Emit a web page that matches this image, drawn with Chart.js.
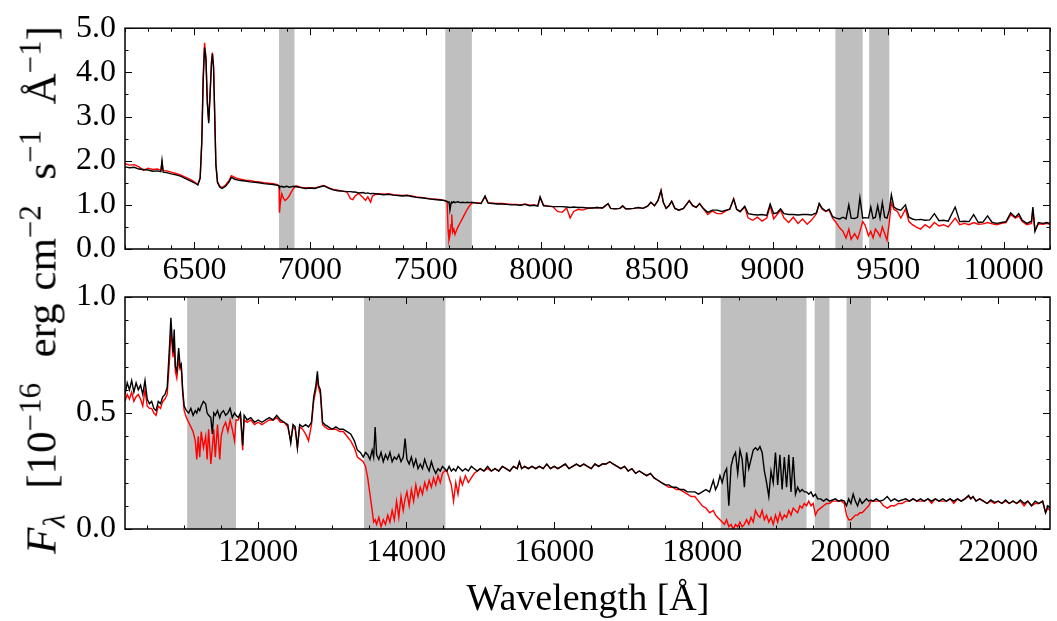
<!DOCTYPE html>
<html>
<head>
<meta charset="utf-8">
<script src="https://cdn.jsdelivr.net/npm/chart.js@4.4.1/dist/chart.umd.min.js"></script>
<style>
  body { margin: 0; background: #fff; }
  #wrap { position: relative; width: 1057px; height: 621px; font-family: 'Liberation Serif', 'Times New Roman', serif; color: #000; }
  canvas { position: absolute; left: 0; top: 0; }
  .ylab { position: absolute; left: 41px; top: 290px; transform: translate(-50%, -50%) rotate(-90deg); font-size: 43px; white-space: nowrap; word-spacing: 2px; }
  .xlab { position: absolute; left: 588px; top: 597px; transform: translate(-50%, -50%); font-size: 38px; white-space: nowrap; }
  sup { font-size: 0.72em; vertical-align: 0.5em; line-height: 0; }
  sub { font-size: 0.72em; vertical-align: -0.3em; line-height: 0; }
</style>
</head>
<body>
<div id="wrap">
  <canvas id="topPanel" width="1057" height="621"></canvas>
  <canvas id="bottomPanel" width="1057" height="621"></canvas>
  <div class="ylab"><i>F</i><sub><i>λ</i></sub>&nbsp;&nbsp;[10<sup>−16</sup>&nbsp;&nbsp;erg&nbsp;cm<sup>−2</sup>&nbsp;&nbsp;s<sup>−1</sup>&nbsp;&nbsp;Å<sup>−1</sup>]</div>
  <div class="xlab">Wavelength [Å]</div>
</div>
<script>
// ---- top panel (optical) ----
const topWave = [
  6200, 6220, 6240, 6260, 6280, 6300, 6320, 6340, 6355, 6360,
  6365, 6380, 6400, 6420, 6440, 6460, 6480, 6500, 6515, 6525,
  6532, 6538, 6544, 6550, 6556, 6562, 6568, 6574, 6578, 6583,
  6588, 6593, 6600, 6610, 6620, 6635, 6650, 6660, 6675, 6690,
  6700, 6720, 6740, 6760, 6780, 6800, 6820, 6840, 6860, 6866,
  6868, 6872, 6878, 6885, 6892, 6900, 6910, 6920, 6930, 6940,
  6960, 6980, 7000, 7020, 7040, 7060, 7080, 7100, 7120, 7140,
  7160, 7175, 7185, 7195, 7210, 7230, 7240, 7250, 7262, 7270,
  7285, 7300, 7320, 7340, 7360, 7380, 7400, 7420, 7440, 7460,
  7480, 7500, 7520, 7540, 7560, 7580, 7593, 7597, 7601, 7605,
  7610, 7613, 7617, 7622, 7627, 7633, 7640, 7650, 7660, 7670,
  7680, 7690, 7700, 7720, 7740, 7757, 7770, 7790, 7810, 7830,
  7850, 7870, 7890, 7910, 7930, 7950, 7970, 7985, 7995, 8010,
  8030, 8050, 8070, 8090, 8110, 8125, 8140, 8160, 8180, 8200,
  8220, 8240, 8265, 8289, 8300, 8320, 8340, 8352, 8365, 8380,
  8400, 8420, 8440, 8460, 8474, 8490, 8505, 8518, 8528, 8540,
  8552, 8564, 8578, 8595, 8615, 8640, 8655, 8670, 8685, 8700,
  8720, 8740, 8760, 8780, 8800, 8815, 8832, 8845, 8860, 8880,
  8895, 8915, 8935, 8955, 8975, 8990, 9005, 9020, 9035, 9050,
  9070, 9090, 9110, 9130, 9150, 9170, 9190, 9202, 9215, 9230,
  9245, 9260, 9275, 9290, 9305, 9318, 9330, 9340, 9355, 9368,
  9378, 9390, 9400, 9415, 9425, 9435, 9445, 9455, 9465, 9475,
  9485, 9495, 9505, 9514, 9525, 9540, 9555, 9575, 9590, 9605,
  9620, 9640, 9660, 9680, 9700, 9720, 9740, 9760, 9790, 9810,
  9830, 9850, 9870, 9890, 9910, 9930, 9950, 9970, 9990, 10010,
  10030, 10050, 10065, 10080, 10100, 10120, 10126, 10135, 10150, 10170,
  10185, 10200
];
const topBlack = [
  1.86, 1.84, 1.85, 1.81, 1.80, 1.79, 1.76, 1.77, 1.75, 2.00,
  1.74, 1.73, 1.70, 1.68, 1.65, 1.60, 1.55, 1.50, 1.45, 1.60,
  2.40, 3.80, 4.56, 4.30, 3.30, 2.85, 3.50, 4.20, 4.42, 4.10,
  3.00, 1.90, 1.50, 1.40, 1.37, 1.42, 1.52, 1.62, 1.58, 1.56,
  1.55, 1.54, 1.52, 1.51, 1.50, 1.48, 1.47, 1.46, 1.44, 1.43,
  1.40, 1.41, 1.42, 1.40, 1.41, 1.42, 1.40, 1.41, 1.42, 1.41,
  1.39, 1.37, 1.38, 1.37, 1.40, 1.43, 1.38, 1.34, 1.32, 1.31,
  1.30, 1.30, 1.29, 1.29, 1.27, 1.28, 1.26, 1.27, 1.25, 1.26,
  1.25, 1.24, 1.23, 1.24, 1.22, 1.21, 1.20, 1.21, 1.19, 1.17,
  1.16, 1.15, 1.13, 1.12, 1.11, 1.10, 1.08, 1.06, 1.08, 0.88,
  1.04, 1.06, 1.05, 1.07, 1.05, 1.06, 1.07, 1.05, 1.06, 1.05,
  1.06, 1.05, 1.06, 1.04, 1.03, 1.20, 1.04, 1.03, 1.02, 1.02,
  1.01, 1.00, 1.00, 0.99, 1.01, 0.98, 0.99, 0.97, 1.18, 0.98,
  0.97, 0.96, 0.96, 0.96, 0.95, 0.94, 0.95, 0.94, 0.94, 0.93,
  0.93, 0.94, 0.93, 1.03, 0.92, 0.91, 0.92, 0.98, 0.91, 0.91,
  0.92, 0.94, 0.92, 0.97, 1.06, 0.98, 1.10, 1.32, 1.05, 0.92,
  0.98, 1.08, 0.92, 0.88, 0.92, 1.09, 0.98, 0.94, 1.03, 0.92,
  0.83, 0.88, 0.88, 0.85, 0.88, 0.90, 1.13, 0.90, 0.85, 0.97,
  0.80, 0.78, 0.77, 0.78, 0.76, 1.02, 0.80, 0.82, 0.91, 0.80,
  0.78, 0.78, 0.77, 0.78, 0.78, 0.77, 0.82, 1.03, 0.92, 0.86,
  0.90, 0.73, 0.70, 0.68, 0.72, 0.68, 1.00, 0.70, 0.69, 0.72,
  1.16, 0.70, 0.71, 0.70, 0.95, 0.69, 0.72, 0.98, 0.70, 1.05,
  0.72, 0.70, 0.88, 1.23, 0.95, 0.90, 0.88, 1.00, 0.72, 0.68,
  0.66, 0.67, 0.65, 0.66, 0.80, 0.64, 0.65, 0.63, 0.95, 0.62,
  0.63, 0.62, 0.78, 0.60, 0.61, 0.75, 0.60, 0.58, 0.60, 0.62,
  0.82, 0.72, 0.80, 0.65, 0.58, 0.63, 0.95, 0.40, 0.60, 0.58,
  0.60, 0.58
];
const topRed = [
  1.93, 1.90, 1.91, 1.86, 1.78, 1.83, 1.80, 1.81, 1.78, 1.96,
  1.78, 1.77, 1.74, 1.71, 1.68, 1.63, 1.58, 1.52, 1.46, 1.62,
  2.45, 3.90, 4.67, 4.35, 3.35, 2.90, 3.55, 4.25, 4.45, 4.12,
  3.05, 1.95, 1.53, 1.42, 1.39, 1.45, 1.55, 1.66, 1.62, 1.59,
  1.58, 1.56, 1.55, 1.53, 1.52, 1.50, 1.49, 1.48, 1.46, 1.42,
  0.82, 1.05, 1.25, 1.15, 1.10, 1.13, 1.20, 1.30, 1.38, 1.43,
  1.40, 1.38, 1.39, 1.38, 1.41, 1.44, 1.39, 1.35, 1.33, 1.31,
  1.29, 1.14, 1.12, 1.20, 1.26, 1.16, 1.10, 1.18, 1.06, 1.20,
  1.24, 1.25, 1.24, 1.25, 1.23, 1.22, 1.21, 1.22, 1.20, 1.18,
  1.17, 1.15, 1.14, 1.13, 1.12, 1.10, 1.06, 0.45, 0.20, 0.30,
  0.55, 0.78, 0.38, 0.45, 0.33, 0.42, 0.50, 0.60, 0.70, 0.80,
  0.90, 0.98, 1.04, 1.05, 1.04, 1.18, 1.05, 1.04, 1.03, 1.03,
  1.02, 1.01, 1.01, 1.00, 1.02, 0.99, 1.00, 0.98, 1.16, 0.99,
  0.97, 0.96, 0.85, 0.83, 0.93, 0.70, 0.85, 0.90, 0.88, 0.92,
  0.93, 0.94, 0.93, 1.02, 0.92, 0.91, 0.92, 0.97, 0.91, 0.91,
  0.92, 0.94, 0.92, 0.97, 1.06, 0.98, 1.10, 1.33, 1.05, 0.92,
  0.98, 1.08, 0.92, 0.88, 0.92, 1.10, 0.98, 0.94, 1.03, 0.92,
  0.78, 0.86, 0.80, 0.80, 0.87, 0.90, 1.14, 0.90, 0.84, 0.95,
  0.70, 0.65, 0.72, 0.63, 0.70, 0.98, 0.68, 0.78, 0.88, 0.70,
  0.60, 0.72, 0.58, 0.68, 0.56, 0.66, 0.80, 1.02, 0.90, 0.85,
  0.88, 0.70, 0.60, 0.48, 0.40, 0.25, 0.45, 0.22, 0.35, 0.23,
  0.40, 0.62, 0.55, 0.30, 0.40, 0.25, 0.45, 0.38, 0.28, 0.50,
  0.35, 0.20, 0.60, 1.05, 0.90, 0.85, 0.70, 0.90, 0.62, 0.55,
  0.50, 0.45, 0.55, 0.48, 0.60, 0.52, 0.55, 0.50, 0.70, 0.55,
  0.58, 0.55, 0.60, 0.56, 0.57, 0.60, 0.57, 0.55, 0.58, 0.60,
  0.78, 0.70, 0.75, 0.62, 0.55, 0.58, 0.90, 0.42, 0.57, 0.56,
  0.58, 0.56
];
const topBands = [[6866, 6933], [7585, 7700], [9272, 9390], [9418, 9505]];
const topXTicks = [6500, 7000, 7500, 8000, 8500, 9000, 9500, 10000];
const topYTicks = [0, 1, 2, 3, 4, 5];

// ---- bottom panel (near-infrared) ----
const bottomWave = [
  10200, 10230, 10260, 10290, 10320, 10350, 10380, 10410, 10440, 10470,
  10500, 10530, 10560, 10590, 10620, 10650, 10680, 10710, 10740, 10770,
  10800, 10820, 10835, 10850, 10865, 10880, 10900, 10925, 10945, 10960,
  10980, 11000, 11030, 11060, 11090, 11120, 11150, 11170, 11190, 11210,
  11230, 11260, 11290, 11310, 11330, 11360, 11380, 11400, 11420, 11450,
  11480, 11500, 11530, 11560, 11590, 11620, 11650, 11680, 11700, 11730,
  11760, 11790, 11810, 11850, 11900, 11950, 12000, 12050, 12100, 12150,
  12200, 12250, 12300, 12350, 12400, 12440, 12470, 12500, 12530, 12560,
  12600, 12640, 12680, 12720, 12750, 12780, 12800, 12815, 12840, 12870,
  12900, 12950, 13000, 13050, 13100, 13150, 13200, 13250, 13300, 13340,
  13380, 13420, 13450, 13480, 13510, 13540, 13560, 13580, 13600, 13630,
  13660, 13690, 13720, 13750, 13780, 13810, 13840, 13870, 13900, 13930,
  13960, 13985, 14010, 14040, 14070, 14100, 14130, 14160, 14190, 14220,
  14250, 14280, 14310, 14340, 14370, 14400, 14430, 14460, 14490, 14520,
  14550, 14580, 14610, 14640, 14670, 14700, 14730, 14760, 14800, 14840,
  14880, 14920, 14960, 15000, 15050, 15100, 15150, 15200, 15250, 15300,
  15350, 15400, 15450, 15500, 15530, 15560, 15600, 15650, 15700, 15750,
  15800, 15850, 15900, 15950, 16000, 16050, 16100, 16150, 16200, 16250,
  16300, 16350, 16400, 16450, 16500, 16550, 16600, 16650, 16700, 16750,
  16800, 16850, 16900, 16950, 17000, 17050, 17100, 17150, 17200, 17250,
  17300, 17350, 17400, 17450, 17500, 17550, 17600, 17650, 17700, 17750,
  17800, 17850, 17900, 17950, 18000, 18050, 18100, 18150, 18180, 18210,
  18240, 18270, 18300, 18330, 18360, 18390, 18420, 18450, 18480, 18510,
  18540, 18570, 18600, 18630, 18660, 18690, 18720, 18750, 18780, 18810,
  18840, 18870, 18900, 18930, 18960, 18990, 19020, 19050, 19080, 19110,
  19140, 19170, 19200, 19230, 19260, 19290, 19320, 19350, 19380, 19410,
  19440, 19470, 19500, 19530, 19560, 19600, 19640, 19680, 19720, 19760,
  19800, 19840, 19880, 19920, 19950, 19980, 20010, 20040, 20070, 20100,
  20130, 20160, 20190, 20220, 20250, 20280, 20310, 20350, 20400, 20450,
  20500, 20550, 20600, 20650, 20700, 20750, 20800, 20850, 20900, 20950,
  21000, 21050, 21100, 21150, 21200, 21250, 21300, 21350, 21400, 21450,
  21500, 21550, 21600, 21630, 21660, 21700, 21750, 21800, 21850, 21900,
  21950, 22000, 22050, 22100, 22150, 22200, 22250, 22300, 22350, 22400,
  22450, 22500, 22550, 22600, 22640, 22670, 22700
];
const bottomBlack = [
  0.58, 0.63, 0.60, 0.64, 0.59, 0.63, 0.60, 0.62, 0.58, 0.64,
  0.56, 0.54, 0.55, 0.52, 0.51, 0.55, 0.54, 0.57, 0.58, 0.61,
  0.78, 0.91, 0.83, 0.76, 0.86, 0.70, 0.68, 0.78, 0.70, 0.71,
  0.60, 0.53, 0.51, 0.50, 0.52, 0.49, 0.51, 0.50, 0.52, 0.51,
  0.53, 0.55, 0.54, 0.50, 0.49, 0.48, 0.41, 0.50, 0.49, 0.51,
  0.48, 0.50, 0.51, 0.49, 0.50, 0.52, 0.48, 0.50, 0.49, 0.48,
  0.50, 0.36, 0.49, 0.47, 0.48, 0.46, 0.47, 0.46, 0.47, 0.48,
  0.47, 0.49, 0.47, 0.46, 0.45, 0.37, 0.45, 0.44, 0.35, 0.45,
  0.44, 0.45, 0.44, 0.46, 0.57, 0.62, 0.68, 0.62, 0.60, 0.46,
  0.45, 0.44, 0.43, 0.44, 0.43, 0.43, 0.42, 0.41, 0.38, 0.34,
  0.33, 0.31, 0.33, 0.32, 0.30, 0.34, 0.31, 0.44, 0.32, 0.30,
  0.33, 0.29, 0.32, 0.30, 0.33, 0.29, 0.31, 0.30, 0.32, 0.29,
  0.31, 0.39, 0.30, 0.28, 0.31, 0.27, 0.30, 0.26, 0.28, 0.26,
  0.30, 0.27, 0.25, 0.29, 0.26, 0.24, 0.26, 0.25, 0.27, 0.26,
  0.25, 0.27, 0.25, 0.26, 0.25, 0.27, 0.26, 0.25, 0.26, 0.25,
  0.27, 0.26, 0.25, 0.26, 0.25, 0.27, 0.25, 0.26, 0.25, 0.27,
  0.26, 0.25, 0.27, 0.26, 0.29, 0.26, 0.27, 0.26, 0.27, 0.26,
  0.27, 0.26, 0.28, 0.26, 0.27, 0.26, 0.27, 0.28, 0.26, 0.27,
  0.28, 0.27, 0.28, 0.27, 0.26, 0.28, 0.27, 0.28, 0.28, 0.29,
  0.28, 0.27, 0.26, 0.27, 0.25, 0.26, 0.24, 0.25, 0.24, 0.23,
  0.24, 0.22, 0.21, 0.20, 0.19, 0.19, 0.18, 0.18, 0.17, 0.17,
  0.16, 0.16, 0.16, 0.15, 0.16, 0.17, 0.16, 0.21, 0.17, 0.19,
  0.23, 0.20, 0.24, 0.26, 0.10, 0.27, 0.31, 0.33, 0.24, 0.34,
  0.30, 0.18, 0.33, 0.26, 0.30, 0.34, 0.35, 0.34, 0.355, 0.33,
  0.25, 0.20, 0.14, 0.25, 0.20, 0.33, 0.19, 0.32, 0.17, 0.31,
  0.18, 0.32, 0.16, 0.31, 0.15, 0.18, 0.16, 0.17, 0.16, 0.16,
  0.15, 0.16, 0.14, 0.15, 0.13, 0.13, 0.12, 0.13, 0.12, 0.125,
  0.13, 0.12, 0.125, 0.12, 0.10, 0.13, 0.11, 0.15, 0.12, 0.10,
  0.13, 0.11, 0.12, 0.13, 0.12, 0.125, 0.12, 0.13, 0.12, 0.125,
  0.14, 0.12, 0.13, 0.12, 0.125, 0.13, 0.12, 0.13, 0.12, 0.13,
  0.12, 0.13, 0.12, 0.13, 0.12, 0.13, 0.12, 0.13, 0.12, 0.13,
  0.12, 0.13, 0.145, 0.13, 0.14, 0.12, 0.13, 0.12, 0.11, 0.125,
  0.115, 0.12, 0.11, 0.125, 0.11, 0.12, 0.11, 0.125, 0.11, 0.12,
  0.10, 0.12, 0.11, 0.12, 0.07, 0.10, 0.09
];
const bottomRed = [
  0.55, 0.58, 0.56, 0.59, 0.55, 0.57, 0.58, 0.56, 0.53, 0.60,
  0.53, 0.52, 0.52, 0.50, 0.49, 0.53, 0.52, 0.55, 0.56, 0.58,
  0.72, 0.85, 0.80, 0.74, 0.82, 0.68, 0.65, 0.73, 0.69, 0.70,
  0.58, 0.51, 0.48, 0.46, 0.44, 0.42, 0.38, 0.30, 0.40, 0.31,
  0.42, 0.35, 0.40, 0.30, 0.43, 0.28, 0.35, 0.43, 0.31, 0.45,
  0.30, 0.40, 0.44, 0.46, 0.42, 0.47, 0.43, 0.38, 0.47, 0.47,
  0.49, 0.34, 0.47, 0.46, 0.47, 0.45, 0.46, 0.45, 0.46, 0.47,
  0.47, 0.48, 0.46, 0.46, 0.44, 0.38, 0.44, 0.43, 0.35, 0.44,
  0.43, 0.41, 0.38, 0.45, 0.55, 0.60, 0.65, 0.61, 0.58, 0.45,
  0.44, 0.43, 0.43, 0.43, 0.42, 0.42, 0.40, 0.38, 0.35, 0.31,
  0.30, 0.29, 0.27, 0.22, 0.15, 0.08, 0.03, 0.04, 0.02, 0.05,
  0.01, 0.04, 0.02, 0.06, 0.03, 0.08, 0.04, 0.12, 0.05, 0.14,
  0.08, 0.13, 0.16, 0.10, 0.17, 0.12, 0.19, 0.14, 0.18, 0.15,
  0.20, 0.17, 0.21, 0.18, 0.22, 0.19, 0.23, 0.20, 0.24, 0.25,
  0.25, 0.22, 0.19, 0.12, 0.20, 0.15, 0.22, 0.19, 0.23, 0.20,
  0.22, 0.24, 0.25, 0.26, 0.25, 0.26, 0.25, 0.26, 0.25, 0.27,
  0.26, 0.25, 0.27, 0.26, 0.29, 0.26, 0.27, 0.26, 0.27, 0.26,
  0.27, 0.26, 0.28, 0.26, 0.27, 0.26, 0.27, 0.28, 0.26, 0.27,
  0.28, 0.27, 0.28, 0.27, 0.26, 0.28, 0.27, 0.28, 0.28, 0.29,
  0.28, 0.27, 0.26, 0.27, 0.25, 0.26, 0.24, 0.25, 0.24, 0.23,
  0.24, 0.22, 0.21, 0.20, 0.19, 0.18, 0.18, 0.17, 0.17, 0.16,
  0.15, 0.14, 0.14, 0.12, 0.10, 0.09, 0.07, 0.08, 0.06, 0.05,
  0.04, 0.03, 0.02, 0.04, 0.01, 0.02, 0.00, 0.02, 0.01, 0.03,
  0.01, 0.02, 0.04, 0.02, 0.05, 0.03, 0.08, 0.06, 0.05, 0.08,
  0.04, 0.06, 0.03, 0.05, 0.02, 0.06, 0.03, 0.07, 0.04, 0.06,
  0.05, 0.08, 0.06, 0.09, 0.08, 0.07, 0.10, 0.09, 0.11, 0.10,
  0.12, 0.10, 0.11, 0.06, 0.08, 0.09, 0.10, 0.11, 0.11, 0.12,
  0.12, 0.12, 0.12, 0.11, 0.06, 0.04, 0.04, 0.05, 0.06, 0.06,
  0.07, 0.07, 0.08, 0.09, 0.10, 0.12, 0.12, 0.12, 0.12, 0.10,
  0.09, 0.10, 0.10, 0.11, 0.11, 0.12, 0.12, 0.13, 0.12, 0.12,
  0.12, 0.13, 0.11, 0.13, 0.12, 0.12, 0.12, 0.13, 0.11, 0.13,
  0.12, 0.13, 0.14, 0.13, 0.14, 0.12, 0.13, 0.12, 0.11, 0.12,
  0.11, 0.12, 0.11, 0.12, 0.11, 0.12, 0.11, 0.12, 0.10, 0.12,
  0.10, 0.11, 0.11, 0.12, 0.07, 0.09, 0.08
];
const bottomBands = [[11040, 11700], [13430, 14530], [18250, 19410], [19520, 19720], [19950, 20280]];
const bottomXTicks = [12000, 14000, 16000, 18000, 20000, 22000];
const bottomYTicks = [0, 0.5, 1.0];

const serif = "'Liberation Serif', 'Times New Roman', serif";

// shaded telluric windows, then frame + inward ticks on all four sides
const frameTicks = {
  id: 'frameTicks',
  beforeDatasetsDraw(chart, args, o) {
    const { ctx, chartArea: a, scales: { x } } = chart;
    ctx.save();
    ctx.fillStyle = '#bfbfbf';
    o.bands.forEach(([lo, hi]) => {
      const x0 = x.getPixelForValue(lo), x1 = x.getPixelForValue(hi);
      ctx.fillRect(x0, a.top, x1 - x0, a.bottom - a.top);
    });
    ctx.restore();
  },
  afterDraw(chart, args, o) {
    const { ctx, chartArea: a, scales: { x, y } } = chart;
    ctx.save();
    ctx.strokeStyle = '#000';
    ctx.lineWidth = 1;
    const xMark = (v, len) => {
      const p = Math.round(x.getPixelForValue(v)) + 0.5;
      ctx.beginPath();
      ctx.moveTo(p, a.bottom); ctx.lineTo(p, a.bottom - len);
      ctx.moveTo(p, a.top); ctx.lineTo(p, a.top + len);
      ctx.stroke();
    };
    const yMark = (v, len) => {
      const p = Math.round(y.getPixelForValue(v)) + 0.5;
      ctx.beginPath();
      ctx.moveTo(a.left, p); ctx.lineTo(a.left + len, p);
      ctx.moveTo(a.right, p); ctx.lineTo(a.right - len, p);
      ctx.stroke();
    };
    for (let n = Math.ceil(x.min / o.xMinor); n * o.xMinor <= x.max; n++) xMark(n * o.xMinor, 3.5);
    for (let n = Math.ceil(y.min / o.yMinor - 1e-9); n * o.yMinor <= y.max + 1e-9; n++) yMark(n * o.yMinor, 3.5);
    x.ticks.forEach(t => xMark(t.value, 7));
    y.ticks.forEach(t => yMark(t.value, 7));
    ctx.lineWidth = 1.5;
    ctx.strokeRect(a.left, a.top, a.right - a.left, a.bottom - a.top);
    ctx.restore();
  }
};

Chart.defaults.font.family = serif;
Chart.defaults.color = '#000';

function makeChart(id, c) {
  const pts = (w, f) => w.map((v, i) => ({ x: v, y: f[i] }));
  return new Chart(document.getElementById(id), {
    type: 'line',
    data: {
      datasets: [
        { data: pts(c.wave, c.black), borderColor: '#000000', borderWidth: 1.4, pointRadius: 0, order: 0 },
        { data: pts(c.wave, c.red), borderColor: '#ff0000', borderWidth: 1.4, pointRadius: 0, order: 1 }
      ]
    },
    options: {
      responsive: false,
      animation: false,
      devicePixelRatio: 1,
      layout: { padding: { top: c.top, right: 7, left: 0, bottom: 0 } },
      plugins: {
        legend: { display: false },
        tooltip: { enabled: false },
        frameTicks: { bands: c.bands, xMinor: c.xMinor, yMinor: c.yMinor }
      },
      scales: {
        x: {
          type: 'linear', min: c.xMin, max: c.xMax,
          grid: { display: false, drawTicks: false }, border: { display: false },
          ticks: { font: { family: serif, size: 32 }, color: '#000', padding: c.xPad, autoSkip: false, maxRotation: 0, callback: v => String(v) },
          afterBuildTicks: s => { s.ticks = c.xTicks.map(v => ({ value: v })); },
          afterFit: s => { s.height = 621 - c.bottom; }
        },
        y: {
          type: 'linear', min: c.yMin, max: c.yMax,
          grid: { display: false, drawTicks: false }, border: { display: false },
          ticks: { font: { family: serif, size: 32 }, color: '#000', padding: 9, autoSkip: false, callback: v => v.toFixed(1) },
          afterBuildTicks: s => { s.ticks = c.yTicks.map(v => ({ value: v })); },
          afterFit: s => { s.width = 125; }
        }
      }
    },
    plugins: [frameTicks]
  });
}

makeChart('topPanel', {
  wave: topWave, black: topBlack, red: topRed, bands: topBands,
  xMin: 6200, xMax: 10200, yMin: 0, yMax: 5, xTicks: topXTicks, yTicks: topYTicks,
  xMinor: 100, yMinor: 0.5, top: 16, bottom: 249, xPad: 2
});
makeChart('bottomPanel', {
  wave: bottomWave, black: bottomBlack, red: bottomRed, bands: bottomBands,
  xMin: 10200, xMax: 22700, yMin: 0, yMax: 1, xTicks: bottomXTicks, yTicks: bottomYTicks,
  xMinor: 500, yMinor: 0.1, top: 297, bottom: 529, xPad: 4
});
</script>
</body>
</html>
